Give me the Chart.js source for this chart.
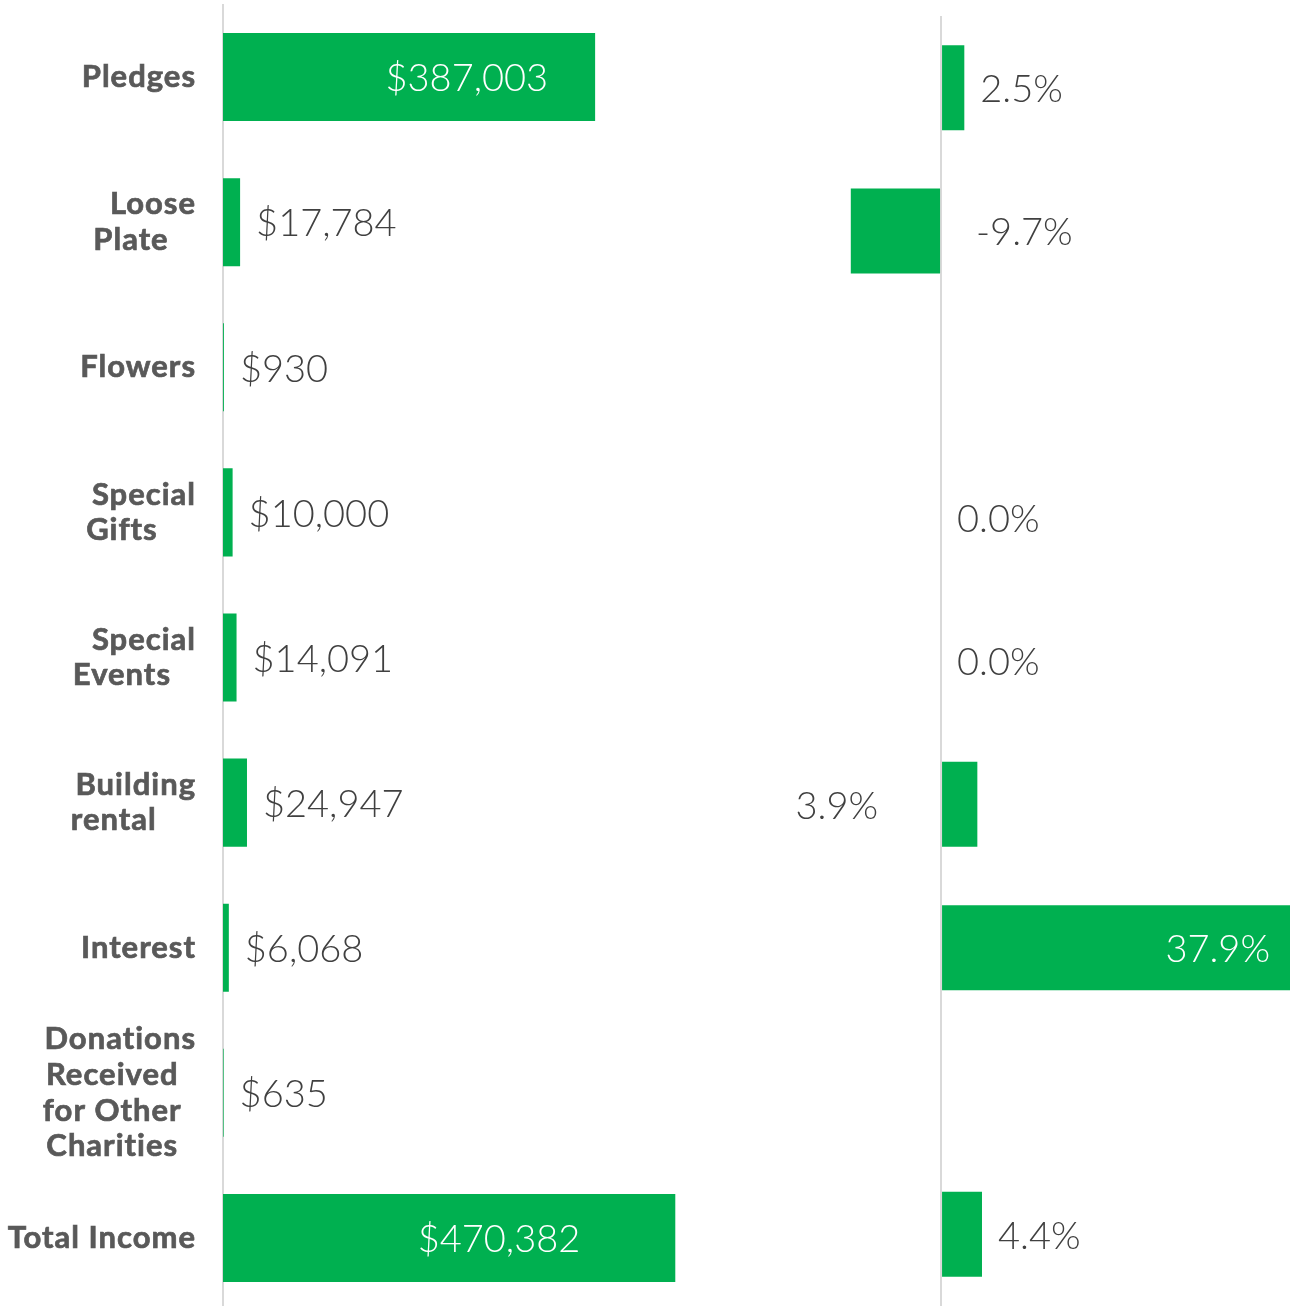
<!DOCTYPE html>
<html>
<head>
<meta charset="utf-8">
<script src="https://cdn.jsdelivr.net/npm/chart.js@4.4.1/dist/chart.umd.min.js"></script>
<style>
    html, body { margin: 0; padding: 0; background: #fff; overflow: hidden; }
    #wrap { position: relative; width: 1290px; height: 1306px; overflow: hidden; }
    #amountBox { position: absolute; left: 0; top: 0; width: 848px; height: 1311px; }
    #changeBox { position: absolute; left: 700px; top: 0; width: 590px; height: 1306px; }
</style>
</head>
<body>
<div id="wrap">
    <div id="amountBox"><canvas id="chart-amount"></canvas></div>
    <div id="changeBox"><canvas id="chart-change"></canvas></div>
</div>
<script>
// categories (one array entry per wrapped line)
const categories = [
    ["Pledges"],
    ["Loose", "Plate"],
    ["Flowers"],
    ["Special", "Gifts"],
    ["Special", "Events"],
    ["Building", "rental"],
    ["Interest"],
    ["Donations", "Received", "for Other", "Charities"],
    ["Total Income"]
];
const amounts = [387003, 17784, 930, 10000, 14091, 24947, 6068, 635, 470382];
const changes = [2.5, -9.7, null, 0.0, 0.0, 3.9, 37.9, null, 4.4];

// where each value label sits (out = after bar, in = inside end, before = left of axis)
const amountPlace = ['in', 'out', 'out', 'out', 'out', 'out', 'out', 'out', 'in'];
const amountNudge = [-47, 0, 0, 0, 0, 0, 0, 0, -95];
const changePlace = ['out', 'out', null, 'out', 'out', 'before', 'in', null, 'out'];
const changeNudge = [0, 20, 0, 0, 0, 0, -20, 0, 0];

const green = '#00b050';
const valueFont = '300 38px Lato';
const catFont = 'bold 31px Lato';

function fmtMoney(v) {
    return '$' + v.toLocaleString('en-US');
}
function fmtPct(v) {
    return v.toFixed(1) + '%';
}

// draws the value labels next to / inside bars
function valueLabels(place, nudge, fmt) {
    return {
        id: 'valueLabels',
        afterDatasetsDraw(chart) {
            const ctx = chart.ctx;
            const meta = chart.getDatasetMeta(0);
            const data = chart.data.datasets[0].data;
            const area = chart.chartArea;
            ctx.save();
            ctx.font = valueFont;
            ctx.textBaseline = 'middle';
            meta.data.forEach(function (bar, i) {
                if (data[i] === null || !place[i]) return;
                const zero = bar.base;
                const end = bar.x;
                const txt = fmt(data[i]);
                let x, align, color = '#404040';
                if (place[i] == 'in') {
                    x = Math.min(end, area.right) + nudge[i];
                    align = 'right';
                    color = '#ffffff';
                } else if (place[i] == 'before') {
                    x = zero - 64 + nudge[i];
                    align = 'right';
                } else {
                    x = Math.max(end, zero) + 16 + nudge[i];
                    align = 'left';
                }
                ctx.fillStyle = color;
                ctx.textAlign = align;
                ctx.fillText(txt, x, bar.y + 2);
            });
            ctx.restore();
        }
    };
}

// category labels: first line right aligned, wrapped lines centred under it
const categoryLabels = {
    id: 'categoryLabels',
    afterDraw(chart) {
        const ctx = chart.ctx;
        const yScale = chart.scales.y;
        const right = chart.chartArea.left - 27;
        const lh = 35.7;
        ctx.save();
        ctx.font = catFont;
        ctx.letterSpacing = '1px';
        ctx.fillStyle = '#595959';
        ctx.strokeStyle = '#595959';
        ctx.lineWidth = 0.7;
        ctx.textBaseline = 'middle';
        categories.forEach(function (lines, i) {
            const y = yScale.getPixelForValue(i);
            let ly = y - (lines.length - 1) * lh / 2;
            const w1 = ctx.measureText(lines[0]).width;
            const shift = lines.length > 2 ? 8 : 22;
            const cx = right - w1 / 2 - shift;
            lines.forEach(function (line, k) {
                let x = right;
                if (k == 0) {
                    ctx.textAlign = 'right';
                } else {
                    ctx.textAlign = 'center';
                    x = cx;
                }
                ctx.fillText(line, x, ly);
                ctx.strokeText(line, x, ly);
                ly += lh;
            });
        });
        ctx.restore();
    }
};

const labels = categories.map(function (c) { return c.join(' '); });

new Chart(document.getElementById('chart-amount'), {
    type: 'bar',
    data: {
        labels: labels,
        datasets: [{
            data: amounts,
            backgroundColor: green,
            borderWidth: 0,
            categoryPercentage: 1,
            barPercentage: 0.607
        }]
    },
    options: {
        indexAxis: 'y',
        maintainAspectRatio: false,
        responsive: true,
        animation: false,
        devicePixelRatio: 1,
        layout: { padding: { left: 223, top: 4.5, right: 0, bottom: 0.5 } },
        plugins: { legend: { display: false }, tooltip: { enabled: false } },
        scales: {
            x: { display: false, min: 0, max: 650000 },
            y: {
                display: true,
                ticks: { display: false },
                grid: { display: false, drawTicks: false },
                border: { display: true, color: '#d9d9d9', width: 2 }
            }
        }
    },
    plugins: [valueLabels(amountPlace, amountNudge, fmtMoney), categoryLabels]
});

new Chart(document.getElementById('chart-change'), {
    type: 'bar',
    data: {
        labels: labels,
        datasets: [{
            data: changes,
            backgroundColor: green,
            borderWidth: 0,
            categoryPercentage: 1,
            barPercentage: 0.593
        }]
    },
    options: {
        indexAxis: 'y',
        maintainAspectRatio: false,
        responsive: true,
        animation: false,
        devicePixelRatio: 1,
        layout: { padding: { left: 148, top: 16, right: 0, bottom: 0 } },
        plugins: { legend: { display: false }, tooltip: { enabled: false } },
        scales: {
            x: {
                display: true,
                min: -10,
                max: 37.5,
                ticks: { display: false, stepSize: 10 },
                grid: {
                    drawTicks: false,
                    lineWidth: 2,
                    color: function (c) { return c.tick && c.tick.value === 0 ? '#d9d9d9' : 'rgba(0,0,0,0)'; }
                },
                border: { display: false }
            },
            y: { display: false }
        }
    },
    plugins: [valueLabels(changePlace, changeNudge, fmtPct)]
});
</script>
</body>
</html>
